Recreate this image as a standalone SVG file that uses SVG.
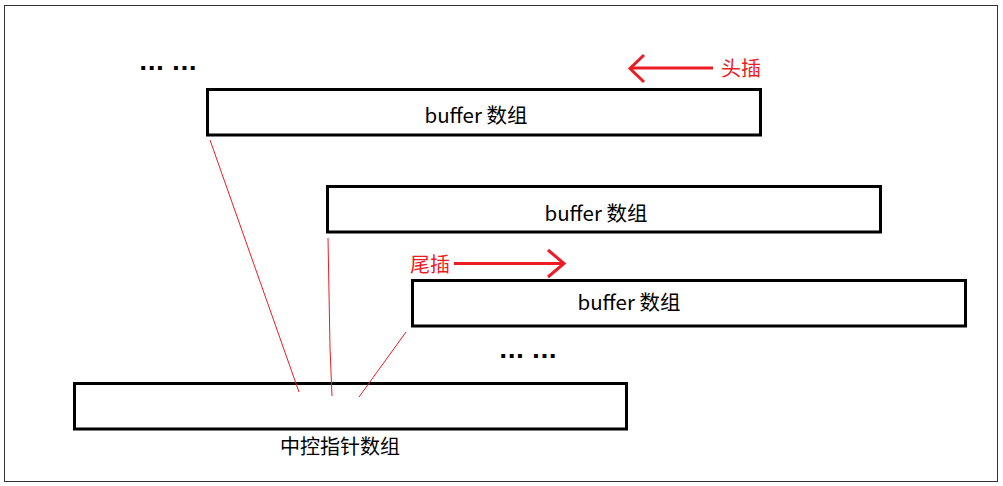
<svg xmlns="http://www.w3.org/2000/svg" width="1003" height="486" viewBox="0 0 1003 486">
<style>
.box{fill:#fff;stroke:#000;stroke-width:3}
.lbl{font-family:"Noto Sans CJK SC","Microsoft YaHei",sans-serif;font-size:20px;fill:#000;text-anchor:middle;dominant-baseline:central}
.buf{font-size:20.5px}
.red{fill:#ed1c24}
.dots{font-family:"DejaVu Sans",sans-serif;font-size:22px;font-weight:bold;fill:#000;text-anchor:middle;dominant-baseline:central}
.thin{stroke:#ed1c24;stroke-width:1;fill:none}
.arr{stroke:#ed1c24;stroke-width:3;fill:none}
</style>
<rect x="0" y="0" width="1003" height="486" fill="#fff"/>
<rect x="4.5" y="5.5" width="993" height="476" fill="none" stroke="#333" stroke-width="1"/>
<g id="buffer1"><rect class="box" x="207.5" y="89.5" width="553" height="45.5"/><text class="lbl buf" x="476" y="114">buffer 数组</text></g>
<g id="buffer2"><rect class="box" x="327.5" y="186.5" width="553" height="45.5"/><text class="lbl buf" x="596" y="212">buffer 数组</text></g>
<g id="buffer3"><rect class="box" x="412.5" y="280.5" width="553" height="45.5"/><text class="lbl buf" x="629" y="301">buffer 数组</text></g>
<g id="map"><rect class="box" x="74.5" y="383.5" width="552" height="45.5"/><text class="lbl" x="340" y="445">中控指针数组</text></g>
<g id="dots-top"><text class="dots" x="168" y="62">... ...</text></g>
<g id="dots-bottom"><text class="dots" x="528" y="350">... ...</text></g>
<g id="head"><text class="lbl red" x="741" y="67">头插</text></g>
<g id="tail"><text class="lbl red" x="430" y="263">尾插</text></g>
<g id="connectors">
<line class="thin" x1="210" y1="140" x2="299" y2="392"/>
<polyline class="thin" points="328,238 330,348 332,396"/>
<line class="thin" x1="406" y1="332" x2="359" y2="397"/>
<line class="arr" x1="630" y1="68" x2="713" y2="68"/>
<polyline class="arr" points="644,55 630,68.5 644,82"/>
<line class="arr" x1="454" y1="263.5" x2="564" y2="263.5"/>
<polyline class="arr" points="548,250 564,263.5 548,277"/>
</g>
</svg>
